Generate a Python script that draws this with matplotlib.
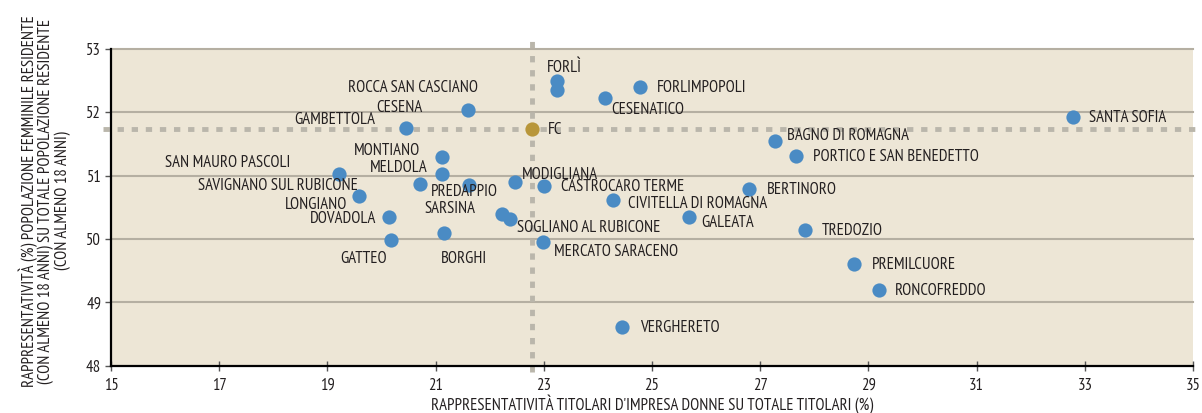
import matplotlib.pyplot as plt
from matplotlib import font_manager

names = ["FORLÌ", "ROCCA SAN CASCIANO", "FORLIMPOPOLI", "CESENATICO", "CESENA",
         "GAMBETTOLA", "SANTA SOFIA", "BAGNO DI ROMAGNA", "PORTICO E SAN BENEDETTO",
         "MONTIANO", "MELDOLA", "SAN MAURO PASCOLI", "SAVIGNANO SUL RUBICONE",
         "PREDAPPIO", "MODIGLIANA", "CASTROCARO TERME", "CIVITELLA DI ROMAGNA",
         "BERTINORO", "LONGIANO", "DOVADOLA", "GATTEO", "BORGHI", "SARSINA",
         "SOGLIANO AL RUBICONE", "GALEATA", "TREDOZIO", "MERCATO SARACENO",
         "PREMILCUORE", "RONCOFREDDO", "VERGHERETO"]
titolari = [23.24, 23.24, 24.78, 24.13, 21.59, 20.45, 32.79, 27.27, 27.67,
            21.11, 21.12, 19.22, 20.72, 21.61, 22.47, 23.00, 24.28, 26.80,
            19.58, 20.13, 20.18, 21.16, 22.22, 22.38, 25.69, 27.82, 22.98,
            28.73, 29.19, 24.45]
popolazione = [52.49, 52.36, 52.40, 52.22, 52.03, 51.75, 51.92, 51.54, 51.31,
               51.29, 51.03, 51.03, 50.87, 50.86, 50.90, 50.84, 50.62, 50.79,
               50.68, 50.35, 49.99, 50.09, 50.39, 50.31, 50.34, 50.14, 49.96,
               49.61, 49.20, 48.61]
fc_x, fc_y = 22.78, 51.74

# label offsets in pixels (dx, dy) and alignment
label_pos = {
    "FORLÌ": (-10, 14, 'left'),
    "ROCCA SAN CASCIANO": (-79, 3, 'right'),
    "FORLIMPOPOLI": (17, 0, 'left'),
    "CESENATICO": (6, -11, 'left'),
    "CESENA": (-45, 3, 'right'),
    "GAMBETTOLA": (-31, 9, 'right'),
    "SANTA SOFIA": (16, 0, 'left'),
    "BAGNO DI ROMAGNA": (12, 6, 'left'),
    "PORTICO E SAN BENEDETTO": (17, 0, 'left'),
    "MONTIANO": (-21, 7, 'right'),
    "MELDOLA": (-14, 7, 'right'),
    "SAN MAURO PASCOLI": (-49, 12, 'right'),
    "SAVIGNANO SUL RUBICONE": (-63, -1, 'right'),
    "PREDAPPIO": (-38, -6, 'left'),
    "MODIGLIANA": (7, 8, 'left'),
    "CASTROCARO TERME": (17, 0, 'left'),
    "CIVITELLA DI ROMAGNA": (15, -3, 'left'),
    "BERTINORO": (17, 0, 'left'),
    "LONGIANO": (-12, -8, 'right'),
    "DOVADOLA": (-12, -1, 'right'),
    "GATTEO": (-4, -18, 'right'),
    "BORGHI": (-3, -25, 'left'),
    "SARSINA": (-26, 6, 'right'),
    "SOGLIANO AL RUBICONE": (7, -8, 'left'),
    "GALEATA": (12, -5, 'left'),
    "TREDOZIO": (17, 0, 'left'),
    "MERCATO SARACENO": (11, -9, 'left'),
    "PREMILCUORE": (18, 0, 'left'),
    "RONCOFREDDO": (16, 0, 'left'),
    "VERGHERETO": (18, 0, 'left'),
}

# condensed face if available, close to the original's typeface
installed = {f.name for f in font_manager.fontManager.ttflist}
fam = 'Liberation Sans'
for cand in ['PT Sans Narrow', 'Asap Condensed', 'Fira Sans Condensed',
             'Barlow Semi Condensed', 'Archivo Narrow']:
    if cand in installed:
        fam = cand
        break
plt.rcParams['font.family'] = [fam, 'DejaVu Sans']
narrow = fam != 'Liberation Sans'

text_col = '#231f20'
bg = '#ede6d6'
grid_col = '#b5afa2'
ref_col = '#bab6ab'
blue = '#4a8bc4'
gold = '#b8963a'

fig = plt.figure(figsize=(12.02, 4.13), dpi=100)
ax = fig.add_axes([111 / 1202, 1 - 365.7 / 413, (1193 - 111) / 1202, (365.7 - 49) / 413])
ax.set_facecolor(bg)
ax.set_xlim(15, 35)
ax.set_ylim(48, 53)

for yv in [49, 50, 51, 52, 53]:
    ax.axhline(yv, color=grid_col, lw=1.5, zorder=1, clip_on=False)

# reference lines (provincial value)
ax.plot([fc_x, fc_x], [47.9, 53.14], color=ref_col, lw=3.5,
        linestyle=(0, (1.3, 1.6)), zorder=2, clip_on=False)
ax.plot([14.85, 35.15], [fc_y, fc_y], color=ref_col, lw=3.5,
        linestyle=(0, (1.3, 1.6)), zorder=2, clip_on=False)

ax.scatter(titolari, popolazione, s=105, color=blue, zorder=4, linewidths=0)
ax.scatter([fc_x], [fc_y], s=105, color=gold, zorder=4, linewidths=0)

fs = 12 if narrow else 9
fs_y = 12 if narrow else 8
for n, xv, yv in zip(names, titolari, popolazione):
    dx, dy, ha = label_pos[n]
    ax.annotate(n, (xv, yv), xytext=(dx, dy - 1), textcoords='offset pixels',
                ha=ha, va='center', fontsize=fs, color=text_col, zorder=5)
ax.annotate("FC", (fc_x, fc_y), xytext=(16, -1), textcoords='offset pixels',
            ha='left', va='center', fontsize=fs, color=text_col, zorder=5)

for s in ['top', 'right']:
    ax.spines[s].set_visible(False)
for s in ['left', 'bottom']:
    ax.spines[s].set_color('black')
    ax.spines[s].set_linewidth(1.6)
    ax.spines[s].set_zorder(6)

ax.set_xticks(range(15, 36, 2))
ax.set_yticks(range(48, 54))
ax.tick_params(axis='x', direction='inout', length=7, width=1, color='#555555',
               labelsize=fs, labelcolor=text_col, pad=5)
ax.tick_params(axis='y', direction='out', length=4, width=1, color='#555555',
               labelsize=fs, labelcolor=text_col, pad=3)

ax.set_xlabel("RAPPRESENTATIVITÀ TITOLARI D'IMPRESA DONNE SU TOTALE TITOLARI (%)",
              fontsize=fs, color=text_col, labelpad=1)
ax.set_ylabel("RAPPRESENTATIVITÀ (%) POPOLAZIONE FEMMINILE RESIDENTE\n"
              "(CON ALMENO 18 ANNI) SU TOTALE POPOLAZIONE RESIDENTE\n"
              "(CON ALMENO 18 ANNI)", fontsize=fs_y, color=text_col,
              linespacing=1.0)
ax.yaxis.set_label_coords(-0.037, 0.52)

fig.savefig('out.png', dpi=100)
